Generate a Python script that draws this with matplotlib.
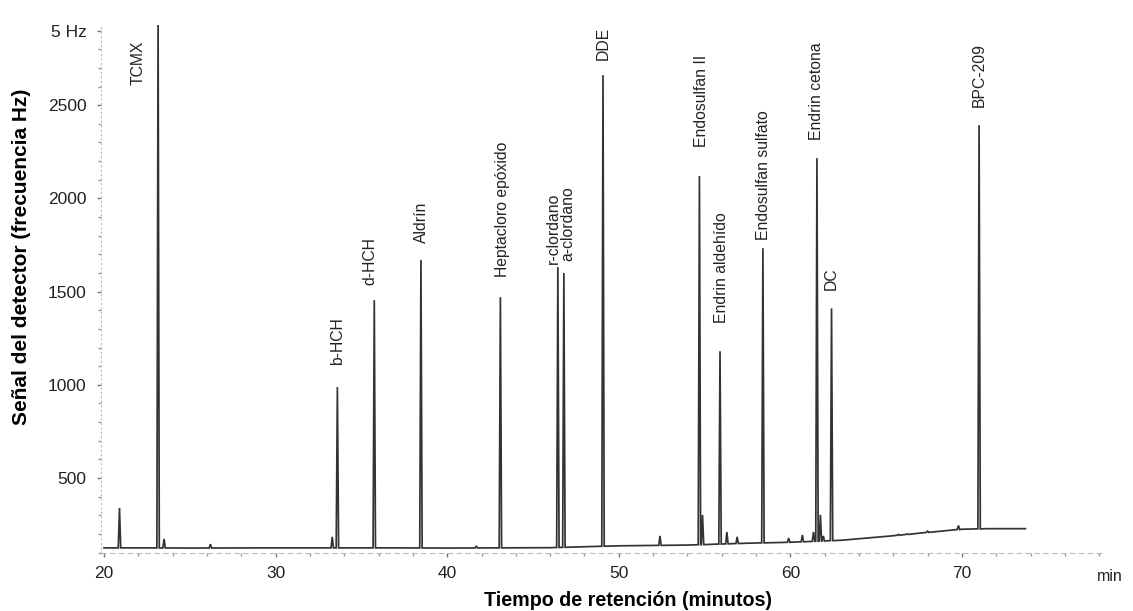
import numpy as np
import matplotlib
matplotlib.use('Agg')
import matplotlib.pyplot as plt
from matplotlib.ticker import MultipleLocator
import matplotlib.transforms as mtransforms

plt.rcParams['font.family'] = ['Liberation Sans', 'DejaVu Sans']

# Línea base del cromatograma (min, Hz)
base_t = [20.0, 22.5, 25.0, 30.0, 36.5, 40.0, 46.0, 50.0, 54.0, 57.5,
          60.0, 63.0, 66.0, 68.0, 70.0, 71.5, 73.7]
base_y = [125, 125, 124, 125, 125, 124, 126, 136, 140, 150,
          155, 166, 190, 208, 225, 228, 228]

# Picos: tiempo de retención (min) y altura de la señal (Hz)
pico_t = [20.9, 23.15, 23.5, 26.2, 33.3, 33.6, 35.75, 38.47, 41.7, 43.1,
          46.45, 46.8, 49.08, 52.4, 54.7, 54.88, 55.9, 56.3, 56.9, 58.4,
          59.9, 60.7, 61.35, 61.55, 61.75, 61.92, 62.4, 66.3, 66.8, 68.0,
          69.8, 71.0]
pico_h = [339, 2960, 173, 145, 184, 988, 1454, 1670, 135, 1470,
          1631, 1600, 2661, 189, 2120, 302, 1180, 210, 184, 1733,
          178, 194, 210, 2216, 302, 189, 1410, 197, 200, 215,
          245, 2393]

# Compuestos identificados: nombre, posición del rótulo (min, Hz)
nombres = ['TCMX', 'b-HCH', 'd-HCH', 'Aldrín', 'Heptacloro epóxido',
           'r-clordano', 'a-clordano', 'DDE', 'Endosulfan II',
           'Endrin aldehído', 'Endosulfan sulfato', 'Endrin cetona', 'DC',
           'BPC-209']
rotulo_t = [22.0, 33.58, 35.5, 38.5, 43.2, 46.17, 47.04, 49.08, 54.85,
            56.0, 58.46, 61.55, 62.37, 71.0]
rotulo_y = [2610, 1106, 1535, 1760, 1578, 1650, 1665, 2741, 2275,
            1331, 1776, 2312, 1508, 2489]

x_ticks = [20, 30, 40, 50, 60, 70]
y_ticks = [500, 1000, 1500, 2000, 2500, 2900]
y_tick_labels = ['500', '1000', '1500', '2000', '2500', '5 Hz']

# Construcción de la traza: línea base + picos estrechos
semi_ancho = 0.07
pie = np.interp(pico_t, base_t, base_y)
puntos = [(t, y) for t, y in zip(base_t, base_y)
          if min(abs(t - p) for p in pico_t) > semi_ancho]
for t, h, b in zip(pico_t, pico_h, pie):
    puntos += [(t - semi_ancho, b), (t, h), (t + semi_ancho, b)]
puntos.sort()
traza_t = [p[0] for p in puntos]
traza_y = [p[1] for p in puntos]

fig = plt.figure(figsize=(11.33, 6.11), dpi=100)
ax = fig.add_axes([0.0888, 0.0957, 0.8844, 0.8633])

ax.plot(traza_t, traza_y, color='#333333', lw=1.25, solid_joinstyle='miter')

for nombre, x, y in zip(nombres, rotulo_t, rotulo_y):
    ax.text(x, y, nombre, rotation=90, ha='center', va='bottom',
            fontsize=11.3, color='#222222')

ax.set_xlim(19.8, 78.2)
ax.set_ylim(100, 2930)

ax.set_xticks(x_ticks)
ax.xaxis.set_minor_locator(MultipleLocator(2))
ax.set_yticks(y_ticks)
ax.set_yticklabels(y_tick_labels)
ax.yaxis.set_minor_locator(MultipleLocator(100))

ax.tick_params(axis='both', which='major', labelsize=12.5, labelcolor='#222222',
               color='#777777', length=3, width=1, pad=7)
ax.tick_params(axis='both', which='minor', color='#999999', length=2, width=1)

for lado in ['top', 'right']:
    ax.spines[lado].set_visible(False)
ax.spines['left'].set_color('#bbbbbb')
ax.spines['left'].set_linestyle((0, (1, 3)))
ax.spines['bottom'].set_color('#bbbbbb')
ax.spines['bottom'].set_linestyle((0, (4, 4)))

trans = mtransforms.blended_transform_factory(ax.transData, ax.transAxes)
ax.text(78.6, -0.046, 'min', transform=trans, ha='center', va='center',
        fontsize=11.5, color='#222222', clip_on=False)

ax.set_xlabel('Tiempo de retención (minutos)', fontsize=14.2, fontweight='bold')
ax.set_ylabel('Señal del detector (frecuencia Hz)', fontsize=15, fontweight='bold')
ax.xaxis.set_label_coords(0.526, -0.072)
ax.yaxis.set_label_coords(-0.069, 0.56)

fig.savefig('out.png', dpi=100)
